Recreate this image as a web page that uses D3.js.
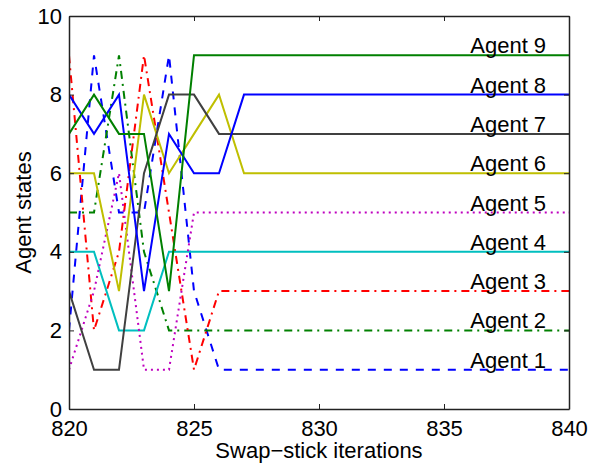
<!DOCTYPE html>
<html>
<head>
<meta charset="utf-8">
<script src="https://cdn.jsdelivr.net/npm/d3@7"></script>
<style>
	body { margin: 0; background: #fff; }
	text { font-family: "Liberation Sans", Arial, Helvetica, sans-serif; }
</style>
</head>
<body>
<div id="chartContainer"></div>
<script>
var width = 590,
	height = 465;

var margin = {top: 16, right: 21, bottom: 56, left: 69};

// iterations shown on the x axis
var iterations = [820, 821, 822, 823, 824, 825, 826, 827, 828, 829, 830,
	831, 832, 833, 834, 835, 836, 837, 838, 839, 840];

// state of each agent at every iteration (a permutation of 1..9 per step)
var agent1 = [2, 9, 5, 5, 9, 3, 1, 1, 1, 1, 1, 1, 1, 1, 1, 1, 1, 1, 1, 1, 1];
var agent2 = [5, 5, 9, 4, 2, 2, 2, 2, 2, 2, 2, 2, 2, 2, 2, 2, 2, 2, 2, 2, 2];
var agent3 = [9, 2, 4, 9, 5, 1, 3, 3, 3, 3, 3, 3, 3, 3, 3, 3, 3, 3, 3, 3, 3];
var agent4 = [4, 4, 2, 2, 4, 4, 4, 4, 4, 4, 4, 4, 4, 4, 4, 4, 4, 4, 4, 4, 4];
var agent5 = [1, 3, 6, 1, 1, 5, 5, 5, 5, 5, 5, 5, 5, 5, 5, 5, 5, 5, 5, 5, 5];
var agent6 = [6, 6, 3, 8, 6, 7, 8, 6, 6, 6, 6, 6, 6, 6, 6, 6, 6, 6, 6, 6, 6];
var agent7 = [3, 1, 1, 6, 8, 8, 7, 7, 7, 7, 7, 7, 7, 7, 7, 7, 7, 7, 7, 7, 7];
var agent8 = [8, 7, 8, 3, 7, 6, 6, 8, 8, 8, 8, 8, 8, 8, 8, 8, 8, 8, 8, 8, 8];
var agent9 = [7, 8, 7, 7, 3, 9, 9, 9, 9, 9, 9, 9, 9, 9, 9, 9, 9, 9, 9, 9, 9];

var agentNames = ["Agent 1", "Agent 2", "Agent 3", "Agent 4", "Agent 5",
	"Agent 6", "Agent 7", "Agent 8", "Agent 9"];

var xTicks = [820, 825, 830, 835, 840];
var yTicks = [0, 2, 4, 6, 8, 10];


function draw() {
	"use strict";

	var agents = [agent1, agent2, agent3, agent4, agent5, agent6, agent7, agent8, agent9];

	// matlab style colour / line style for each agent
	var colors = ["#0000ff", "#008000", "#ff0000", "#00bfbf", "#bf00bf",
		"#bfbf00", "#404040", "#0000ff", "#008000"];
	var dashes = ["8,8", "8,5,2,5", "8,5,2,5", null, "2,4", null, null, null, null];

	var svg = d3.select("#chartContainer")
		.append("svg")
		.attr("width", width)
		.attr("height", height);

	var x = d3.scaleLinear()
		.domain([820, 840])
		.range([margin.left, width - margin.right]);

	var y = d3.scaleLinear()
		.domain([0, 10])
		.range([height - margin.bottom, margin.top]);

	svg.append("clipPath")
		.attr("id", "plotClip")
		.append("rect")
		.attr("x", x(820))
		.attr("y", y(10))
		.attr("width", x(840) - x(820))
		.attr("height", y(0) - y(10));

	var line = d3.line()
		.x(function(d, i) { return x(iterations[i]); })
		.y(function(d) { return y(d); });

	/* Agent lines */
	svg.append("g")
		.attr("clip-path", "url(#plotClip)")
		.selectAll("path")
		.data(agents)
		.enter()
		.append("path")
		.attr("d", line)
		.attr("fill", "none")
		.attr("stroke", function(d, i) { return colors[i]; })
		.attr("stroke-width", 2)
		.attr("stroke-dasharray", function(d, i) { return dashes[i]; });

	/* Agent labels sitting on top of their final state */
	svg.append("g")
		.selectAll("text")
		.data(agents)
		.enter()
		.append("text")
		.attr("x", x(836.05))
		.attr("y", function(d) { return y(d[d.length - 1]) - 2; })
		.style("font-size", "22px")
		.text(function(d, i) { return agentNames[i]; });

	/* Axes, ticks pointing inwards, box all round */
	var xBottom = d3.axisBottom(x).tickValues(xTicks).tickSizeInner(-5).tickSizeOuter(0).tickPadding(11);
	var xTop = d3.axisTop(x).tickValues(xTicks).tickSizeInner(-5).tickSizeOuter(0).tickFormat("");
	var yLeft = d3.axisLeft(y).tickValues(yTicks).tickSizeInner(-5).tickSizeOuter(0).tickPadding(7);
	var yRight = d3.axisRight(y).tickValues(yTicks).tickSizeInner(-5).tickSizeOuter(0).tickFormat("");

	var axes = [
		svg.append("g").attr("transform", "translate(0," + y(0) + ")").call(xBottom),
		svg.append("g").attr("transform", "translate(0," + y(10) + ")").call(xTop),
		svg.append("g").attr("transform", "translate(" + x(820) + ",0)").call(yLeft),
		svg.append("g").attr("transform", "translate(" + x(840) + ",0)").call(yRight)
	];

	axes.forEach(function(a) {
		a.select(".domain").attr("stroke", "#222").attr("stroke-width", 1.5);
		a.selectAll(".tick line").attr("stroke", "#222").attr("stroke-width", 1);
		a.selectAll(".tick text")
			.attr("fill", "#000")
			.style("font-family", "'Liberation Sans', Arial, sans-serif")
			.style("font-size", "22px");
	});

	/* Axis titles */
	svg.append("text")
		.attr("x", (x(820) + x(840)) / 2)
		.attr("y", 458)
		.style("text-anchor", "middle")
		.style("font-size", "22px")
		.text("Swap\u2212stick iterations");

	svg.append("text")
		.attr("transform", "translate(31," + (y(0) + y(10)) / 2 + ") rotate(-90)")
		.style("text-anchor", "middle")
		.style("font-size", "22px")
		.text("Agent states");
}

draw();
</script>
</body>
</html>
